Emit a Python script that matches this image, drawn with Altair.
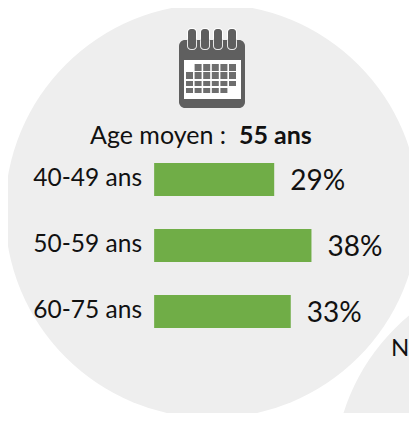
import altair as alt
import pandas as pd

categories = ["40-49 ans", "50-59 ans", "60-75 ans"]
shares = [29, 38, 33]
pct_labels = ["29%", "38%", "33%"]
title_plain = "Age moyen :"
title_bold = "55 ans"

M = 8
W, H = 401, 405
GREY = "#eeeeee"
GREEN = "#70ad47"
DARK = "#5f5f5f"
FONT = "Lato"

df = pd.DataFrame({"cat": categories, "share": shares, "label": pct_labels})
x_scale = alt.Scale(domain=[-35.3, 61.56], range=[0, W], nice=False, zero=False)
y_scale = alt.Scale(domain=categories, range=[155, 320], paddingInner=0.5, paddingOuter=0)
X = alt.X("share:Q", scale=x_scale, axis=None)
Y = alt.Y("cat:N", scale=y_scale, axis=None, sort=categories)


def one():
    return alt.Chart(pd.DataFrame({"a": [0]}))


def rect(x0, y0, x1, y1, color, r=0):
    return one().mark_rect(color=color, cornerRadius=r).encode(
        x=alt.value(x0 - M), x2=alt.value(x1 - M), y=alt.value(y0 - M), y2=alt.value(y1 - M)
    )


def disc(cx, cy, r):
    return one().mark_circle(color=GREY, opacity=1, size=4 * r * r).encode(
        x=alt.value(cx - M), y=alt.value(cy - M)
    )


def label(txt, x, y, size, align="left", weight="normal"):
    return one().mark_text(
        text=txt, font=FONT, fontSize=size, align=align, baseline="middle", color="#111111", fontWeight=weight
    ).encode(x=alt.value(x - M), y=alt.value(y - M))


layers = [disc(212, 211, 207), disc(541, 475, 207)]

# calendar icon
for rx in [188, 201, 214, 228]:
    layers.append(rect(rx - 1, 28, rx + 9, 50, "#ffffff", 4))
layers.append(rect(179, 40, 245, 108, DARK, 6))
for rx in [188, 201, 214, 228]:
    layers.append(rect(rx - 1, 37, rx + 9, 50, "#e8e8e8", 4))
    layers.append(rect(rx, 29, rx + 8, 49, DARK, 3))
layers.append(rect(184, 60, 241, 99, "#ffffff"))
rows = [(64, 71, 1, 6), (72, 79, 0, 6), (81, 86, 0, 6), (88, 93, 0, 5)]
for y0, y1, c0, c1 in rows:
    for c in range(c0, c1):
        x0 = 186 + c * 8.6
        layers.append(rect(x0, y0, x0 + 7, y1, "#6e6e6e"))

layers.append(label(title_plain, 90, 136, 25))
layers.append(label(title_bold, 239, 136, 25, weight="bold"))
layers.append(label("N", 391, 349, 24))

base = alt.Chart(df)
layers.append(base.mark_bar(color=GREEN).encode(x=X, x2=alt.value(146), y=Y))
layers.append(
    base.mark_text(font=FONT, fontSize=24.5, align="right", color="#111111", dy=-1).encode(
        x=alt.value(134), y=Y, text="cat:N"
    )
)
layers.append(
    base.mark_text(font=FONT, fontSize=28, align="left", color="#111111", dx=16, dy=2).encode(
        x=X, y=Y, text="label:N"
    )
)

chart = (
    alt.layer(*layers)
    .resolve_scale(x="shared", y="shared")
    .properties(width=W, height=H, padding=0, autosize=alt.AutoSizeParams(type="none"))
    .configure_view(stroke=None)
)
chart.save("out.html", embed_options={"renderer": "svg", "actions": False})
